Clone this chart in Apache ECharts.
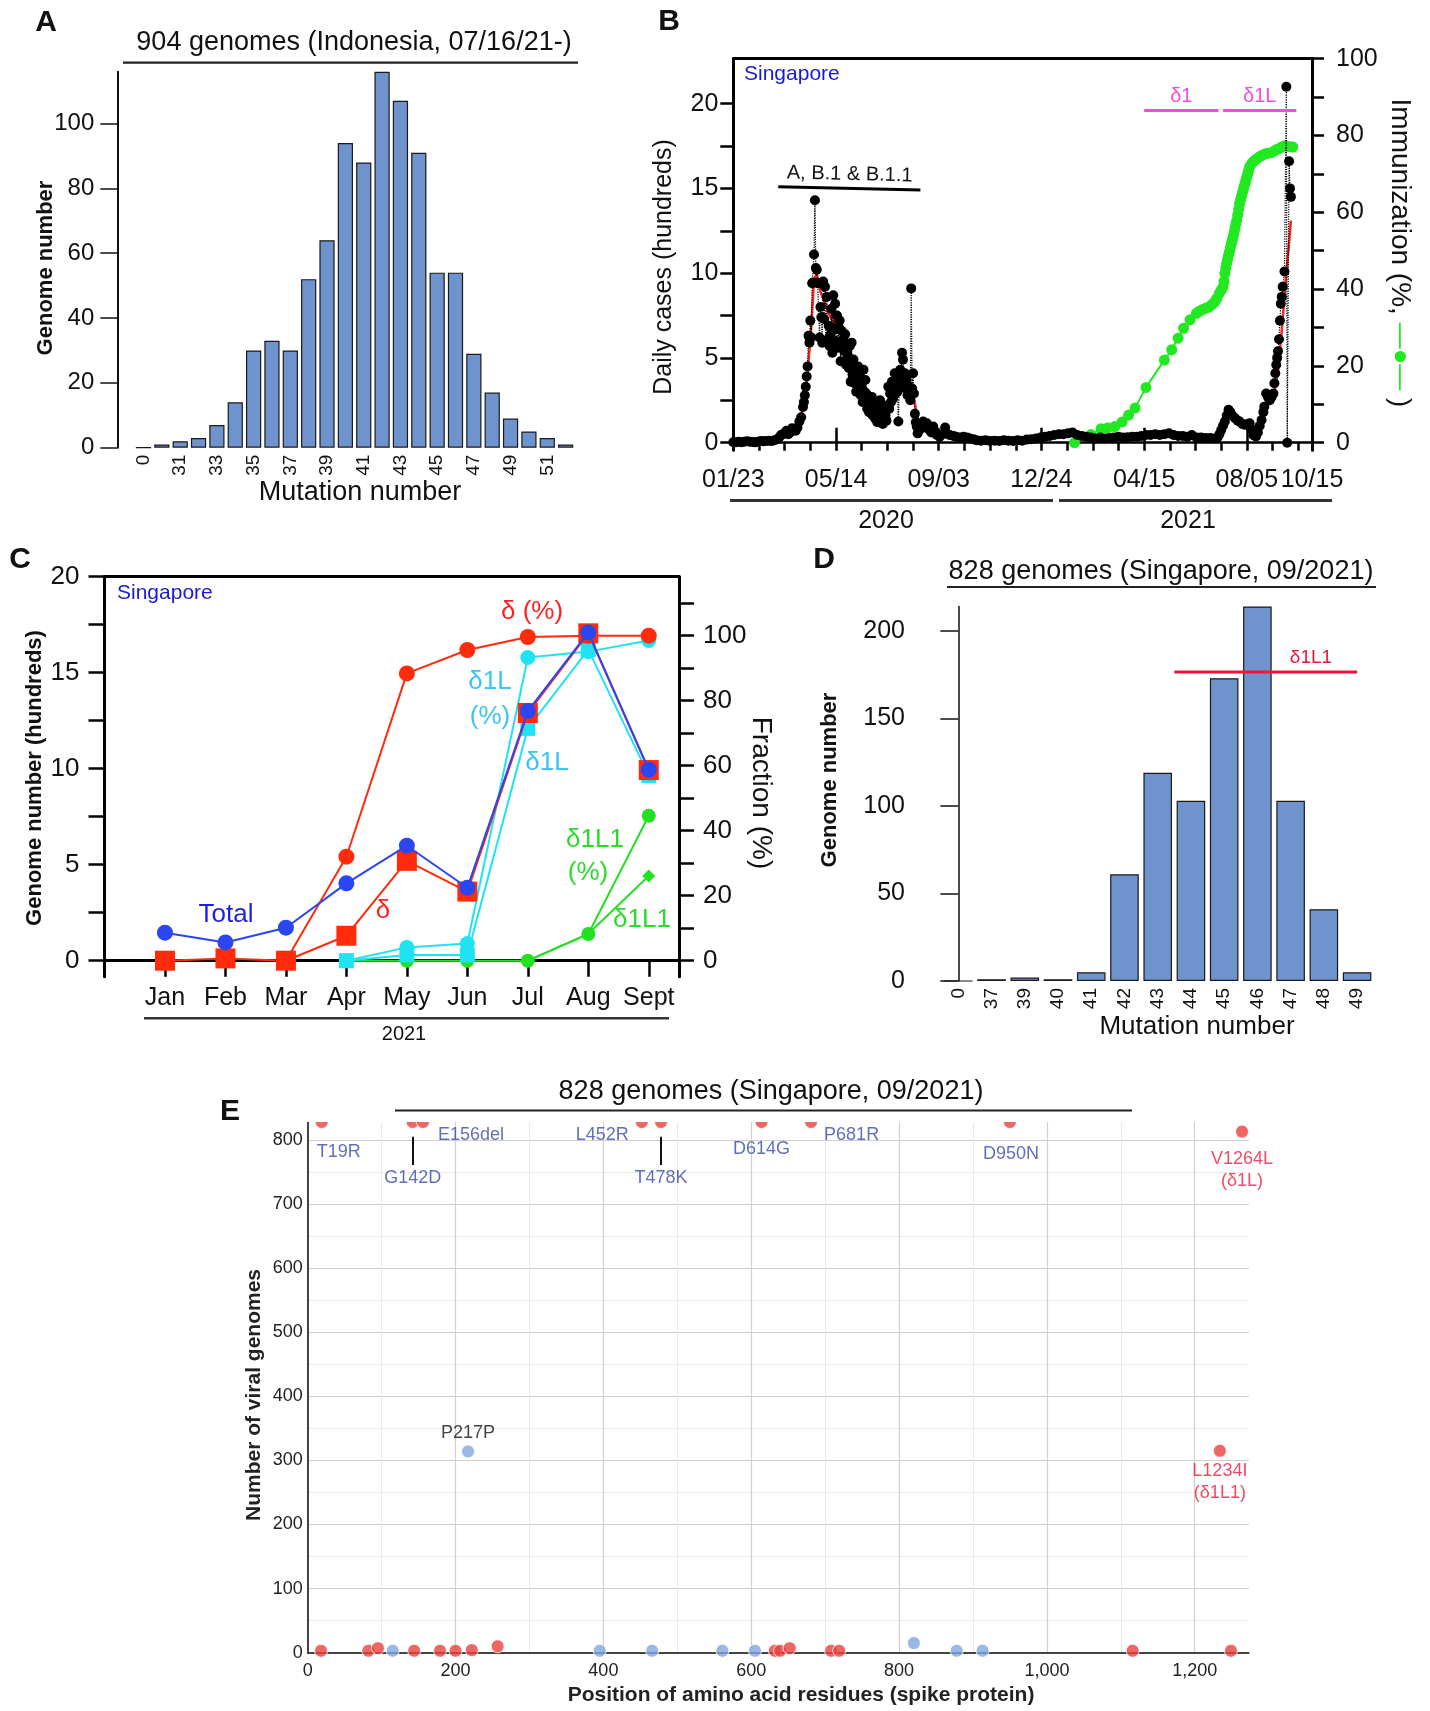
<!DOCTYPE html>
<html><head><meta charset="utf-8">
<script src="https://cdn.jsdelivr.net/npm/echarts@6/dist/echarts.min.js"></script>
<style>html,body{margin:0;padding:0;background:#fff}#c{width:1430px;height:1711px}</style>
</head><body><div id="c"></div>
<script>
// ================= DATA =================
// Panel A: Indonesia mutation-number histogram
const aMutations = ['0','30','31','32','33','34','35','36','37','38','39','40','41','42','43','44','45','46','47','48','49','50','51','52'];
const aGenomes   = [0,1,2,3,7,14,30,33,30,52,64,94,88,116,107,91,54,54,29,17,9,5,3,1];
const aYTicks = [0,20,40,60,80,100];

// Panel B: Singapore daily cases (hundreds) vs days since 2020-01-23, immunization (%)
const bTickDays   = [0,112,224,336,448,560,631];
const bTickLabels = ['01/23','05/14','09/03','12/24','04/15','08/05','10/15'];
const bYears = ['2020','2021'];
const bCases = [
[0,0.02],[3,0.03],[6,0.05],[9,0.02],[12,0.06],[15,0.08],[18,0.05],[21,0.04],[24,0.03],[27,0.06],[30,0.1],[33,0.08],[36,0.1],[39,0.12],[42,0.1],[45,0.14],[48,0.2],
[50,0.3],[52,0.45],[54,0.5],[56,0.55],[58,0.7],[60,0.5],[62,0.6],[64,0.85],[66,0.75],[68,0.7],[70,0.9],[72,1.25],[74,1.5],[76,2.1],[77,2.4],[78,2.8],[79,3.3],[80,3.9],[81,4.5],[82,6.3],[83,5.9],[84,7.2],[85,6.2],[86,9.4],[87,9.45],[88,11.1],[89,14.3],[90,10.3],[91,10.2],[92,9.4],[93,9.4],[94,6.2],[95,8.0],[96,7.4],[97,5.9],[98,9.5],[99,7.3],[100,9.2],[101,6.0],[102,8.6],[103,6.1],[104,6.9],[105,5.7],[106,6.4],[107,7.9],[108,5.3],[109,8.7],[110,6.7],[111,8.2],[112,6.0],[113,7.5],[114,5.6],[115,6.8],[116,7.2],[117,4.8],[118,6.6],[119,5.8],[120,6.1],[121,5.4],[122,6.4],[123,4.6],[124,5.3],[125,5.1],[126,4.4],[127,5.7],[128,3.6],[129,5.9],[130,4.0],[131,4.9],[132,3.5],[133,4.1],[134,3.0],[135,3.7],[136,4.5],[137,3.2],[138,4.1],[139,2.8],[140,3.3],[141,2.4],[142,4.3],[143,3.0],[144,3.7],[145,2.9],[146,2.0],[147,2.5],[148,1.8],[149,2.3],[150,2.2],[151,2.7],[152,1.6],[153,2.1],[154,1.7],[155,1.4],[156,2.3],[157,1.2],[158,1.9],[159,1.6],[160,2.5],[161,2.0],[162,1.8],[163,1.1],[164,1.5],[165,2.0],[166,1.6],[167,1.3],[168,2.2],[169,3.3],[170,2.0],[171,2.9],[172,2.4],[173,3.6],[174,2.6],[175,3.2],[176,4.1],[177,2.9],[178,3.7],[179,3.0],[180,1.25],[181,3.4],[182,4.3],[183,3.8],[184,5.3],[185,4.9],[186,3.5],[187,4.1],[188,3.2],[189,3.7],[190,2.8],[191,3.3],[192,3.0],[193,2.5],[194,9.1],[195,3.2],[196,4.1],[197,2.9],[198,1.7],[199,1.2],[200,0.95],[201,0.55],[202,0.8],[203,0.75],[205,1.0],[207,1.25],[209,0.9],[211,1.15],[213,0.9],[214,0.75],[216,0.6],[218,0.95],[220,0.6],[222,0.45],[225,0.35],[228,0.5],[231,0.9],[234,0.5],[236,0.45],[240,0.4],[243,0.35],[247,0.3],[251,0.35],[255,0.3],[258,0.25],[262,0.2],[265,0.15],
[270,0.12],[275,0.15],[280,0.1],[285,0.12],[290,0.1],[295,0.15],[300,0.12],[305,0.1],[310,0.15],[315,0.12],[320,0.18],[325,0.2],[330,0.25],[335,0.3],[340,0.35],[345,0.4],[350,0.45],[355,0.5],[360,0.5],[365,0.55],[370,0.6],[375,0.45],[380,0.4],[385,0.35],[390,0.3],[395,0.25],[400,0.3],[405,0.25],[410,0.27],[415,0.3],[420,0.35],[425,0.3],[430,0.32],[435,0.35],[440,0.35],[445,0.4],[450,0.45],[455,0.45],[460,0.5],[465,0.45],[470,0.5],[475,0.55],[480,0.45],[485,0.4],[490,0.4],[495,0.35],[500,0.45],[505,0.3],[510,0.3],[515,0.28],[520,0.27],[525,0.25],[528,0.3],
[530,0.5],[532,0.75],[534,1.0],[536,1.25],[538,1.6],[540,1.94],[542,1.8],[544,1.6],[547,1.45],[550,1.3],[552,1.25],[555,1.1],[558,1.05],[561,1.1],[563,1.15],[565,0.8],[567,0.45],[569,0.4],[570,0.36],[572,0.6],[574,1.0],[576,1.34],[578,1.8],[579,2.12],[581,2.9],[583,2.7],[585,2.5],[587,2.7],[589,2.9],[590,3.5],[591,4.1],[592,4.6],[593,5.0],[594,5.4],[595,6.1],[596,7.2],[597,8.2],[598,8.6],[599,9.2],[601,10.1],[603,21.0],[604,0],[606,16.6],[607,15.0],[608,14.5]
];
const bAvgWave1 = [[74,1.6],[78,2.6],[82,4.8],[85,6.8],[88,9.6],[91,10.0],[95,8.9],[100,8.2],[106,7.4],[112,6.9],[118,6.2],[124,5.4],[130,4.7],[136,4.1],[142,3.5],[148,2.7],[154,2.1],[160,1.8],[166,1.9],[172,2.6],[178,3.3],[184,3.9],[190,3.7],[194,3.5],[198,2.3],[202,1.1],[208,0.9],[216,0.8],[225,0.5],[240,0.4],[260,0.2]];
const bAvgWave3 = [[586,2.3],[590,3.0],[594,4.3],[598,6.6],[602,9.4],[606,11.8],[608,13.1]];
const bImmunization = [
[372,0],[390,2.1],[401,3.6],[408,3.8],[416,4.2],[424,5.4],[431,7.2],[438,9.0],[450,14.4],[470,21.5],[478,24.2],[485,27.2],[491,29.8],[498,32.0],[505,33.7],[508,34.2],[512,34.7],[515,35.0],[519,35.4],[522,36.0],[525,36.7],[527,37.5],[530,38.9],[532,39.7],[534,40.6],[535,42.0],[536,44.1],[537,45.5],[538,46.7],[539,47.8],[540,48.8],[541,49.7],[542,50.8],[543,51.8],[544,52.7],[545,53.6],[546,54.7],[547,55.8],[548,56.9],[549,57.9],[550,59.3],[551,60.8],[552,62.3],[553,63.2],[554,64.1],[555,65.0],[556,65.8],[557,66.7],[558,67.6],[559,68.4],[560,69.2],[561,70.1],[562,71.0],[563,71.9],[565,72.6],[567,73.2],[569,73.6],[571,74.0],[574,74.5],[577,74.9],[581,75.3],[584,75.4],[587,75.6],[590,76.0],[593,76.4],[596,76.7],[598,77.0],[601,77.3],[604,77.2],[607,77.1],[610,77.0]
];
const bLineageNames = ['A, B.1 & B.1.1','δ1','δ1L'];
const bLineageStart = [49,448,534];
const bLineageEnd   = [204,529,614];
const bLineageLevel = [15.0,19.6,19.6];

// Panel C: Singapore 2021 monthly genomes (hundreds) and fractions (%)
const cMonths   = ['Jan','Feb','Mar','Apr','May','Jun','Jul','Aug','Sept'];
const cTotal    = [1.46,0.95,1.72,4.03,5.99,3.80,13.0,17.1,9.95];
const cDelta    = [0,0.12,0,1.30,5.2,3.6,12.9,17.05,9.93];
const cDeltaPct = [null,null,0,32.0,88.4,95.6,99.6,100,100];
const cD1L      = [null,null,null,0,0.3,0.3,12.1,16.2,9.65];
const cD1LPct   = [null,null,null,0,4.1,5.3,93.3,95.1,98.5];
const cD1L1     = [null,null,null,null,null,null,0,1.4,4.41];
const cD1L1Pct  = [null,null,null,0,0,0,0,8.2,44.6];

// Panel D: Singapore 09/2021 mutation-number histogram
const dMutations = ['0','37','39','40','41','42','43','44','45','46','47','48','49'];
const dGenomes   = [0,1,2,1,5,61,119,103,173,214,103,41,5];
const dD1L1Span  = ['44','49'];
const dD1L1Level = 176.6;

// Panel E: spike mutations (position, genome count)
const eRedLabeledName  = ['T19R','G142D','E156del','L452R','T478K','D614G','P681R','D950N','V1264L','L1234I'];
const eRedLabeledPos   = [19,142,156,452,478,614,681,950,1264,1234];
const eRedLabeledCount = [828,828,828,828,828,828,828,828,813,315];
const eRedOtherPos     = [18,82,95,144,179,200,222,257,632,639,652,708,719,1116,1249];
const eRedOtherCount   = [3,3,7,3,3,3,4,10,3,3,7,3,3,3,3];
const eBlueLabeledName  = ['P217P'];
const eBlueLabeledPos   = [217];
const eBlueLabeledCount = [314];
const eBlueOtherPos     = [115,395,466,561,605,820,878,913];
const eBlueOtherCount   = [3,3,3,3,3,15,3,3];
const eLineageNote = {V1264L:'(δ1L)', L1234I:'(δ1L1)'};

// ================= STYLE / LAYOUT =================
const FF = '"Liberation Sans", Arial, Helvetica, sans-serif';
const BLUE_FILL = '#6E93CD';
const C_RED = '#FF2B0B', C_BLUE = '#2B46F0', C_CYAN = '#1FE3F2', C_GREEN = '#22E022';
const B_GREEN = '#22E822', MAGENTA = '#F24DDA';
const E_RED = '#E8423F', E_BLUE = '#7FA6DC', E_LBL_BLUE = '#3A4BA8', E_LBL_RED = '#EC1C3C';

const eLabelLayout = {
  T19R:{align:'center', offset:[17,30]},
  G142D:{align:'center', offset:[0,56]},
  E156del:{align:'left', offset:[15,13]},
  L452R:{align:'right', offset:[-13,13]},
  T478K:{align:'center', offset:[0,56]},
  D614G:{align:'center', offset:[0,27]},
  P681R:{align:'left', offset:[13,13]},
  D950N:{align:'center', offset:[1,32]},
  V1264L:{align:'center', offset:[0,38], color:E_LBL_RED},
  L1234I:{align:'center', offset:[0,31], color:E_LBL_RED},
  P217P:{align:'center', offset:[0,-18], color:'#111'}
};
const eLeaderLines = [{name:'G142D', from:805, to:761},{name:'T478K', from:805, to:761}];

function T(x,y,text,size,o){ o=o||{};
  return {type:'text', x:x, y:y, rotation:o.rot||0, z:100, silent:true,
    style:{text:text, fontSize:size, fontFamily:FF, fontWeight:o.bold?'bold':'normal', fill:o.color||'#111',
      align:o.align||'center', verticalAlign:'middle', rich:o.rich, lineHeight:o.lh}};
}
function L(x1,y1,x2,y2,w,color){ return {type:'line', z:100, silent:true, shape:{x1:x1,y1:y1,x2:x2,y2:y2}, style:{stroke:color||'#222', lineWidth:w||2}}; }

const lbl = (size, extra) => Object.assign({fontSize:size, fontFamily:FF, color:'#111'}, extra||{});
const bMinorTickDays = []; for (let d=0; d<=616; d+=28) bMinorTickDays.push(d);
const monthIdx = cMonths.map((m,i)=>i+1);
const toPairs = arr => arr.map((v,i)=> v==null ? null : [i+1, v]).filter(p=>p);

function eItems(names, pos, cnt){
  return names.map((n,i)=>{
    const lay = eLabelLayout[n] || {};
    const text = eLineageNote[n] ? n + '\n' + eLineageNote[n] : n;
    return {name:n, value:[pos[i], cnt[i]], label:{show:true, position:'inside', formatter:text,
      align:lay.align||'center', verticalAlign:'middle', offset:lay.offset||[0,0], color:lay.color||E_LBL_BLUE,
      fontSize:18, fontFamily:FF, lineHeight:22}};
  });
}
const ePairs = (pos,cnt)=>pos.map((p,i)=>[p,cnt[i]]);
const eRedByName = {}; eRedLabeledName.forEach((n,i)=>eRedByName[n]=eRedLabeledPos[i]);

const dStart = dMutations.indexOf(dD1L1Span[0]) - 0.5;
const dEnd = dMutations.indexOf(dD1L1Span[1]);

const bYRight = 100/22.65;

const option = {
  animation:false,
  backgroundColor:'#fff',
  grid:[
    {left:134.3, top:71.7, width:440.5, height:376, containLabel:false, outerBoundsMode:'none'},
    {left:733.3, top:58.7, width:578.7, height:391.6, containLabel:false, outerBoundsMode:'none'},
    {left:104.5, top:576.7, width:574.5, height:400, containLabel:false, outerBoundsMode:'none'},
    {left:941.7, top:606.5, width:432, height:374.5, containLabel:false, outerBoundsMode:'none'},
    {left:307.7, top:1122, width:941, height:530.7, containLabel:false, outerBoundsMode:'none'}
  ],
  xAxis:[
    // 0: A
    {type:'category', gridIndex:0, data:aMutations, axisLine:{show:false}, axisTick:{show:false},
     axisLabel:lbl(19,{rotate:90, interval:1, margin:7}), splitLine:{show:false}},
    // 1: B main
    {type:'value', gridIndex:1, min:0, max:631, axisLine:{show:true, onZero:true, lineStyle:{color:'#000', width:2.5}},
     axisTick:{show:true, customValues:bMinorTickDays, length:8, lineStyle:{color:'#000', width:2.5}},
     axisLabel:lbl(25,{customValues:bTickDays, margin:17, showMinLabel:true, showMaxLabel:true,
       formatter:v=>{const i=bTickDays.indexOf(Math.round(v)); return i>=0?bTickLabels[i]:'';}}),
     splitLine:{show:false}},
    // 2: B major ticks
    {type:'value', gridIndex:1, min:0, max:631, axisLine:{show:false, onZero:true},
     axisTick:{show:true, customValues:bTickDays.slice(0,6), length:15, lineStyle:{color:'#000', width:2.5}},
     axisLabel:{show:false}, splitLine:{show:false}},
    // 3: B top frame
    {type:'value', gridIndex:1, position:'top', min:0, max:631, axisLine:{show:true, onZero:false, lineStyle:{color:'#000', width:3}},
     axisTick:{show:false}, axisLabel:{show:false}, splitLine:{show:false}},
    // 4: C main
    {type:'value', gridIndex:2, min:0, max:9.5, axisLine:{show:true, onZero:true, lineStyle:{color:'#000', width:3}},
     axisTick:{show:true, customValues:monthIdx, length:16, lineStyle:{color:'#000', width:2.5}},
     axisLabel:lbl(25,{customValues:monthIdx, margin:9, formatter:v=>cMonths[Math.round(v)-1]||''}),
     splitLine:{show:false}},
    // 5: C top frame
    {type:'value', gridIndex:2, position:'top', min:0, max:9.5, axisLine:{show:true, onZero:false, lineStyle:{color:'#000', width:3}},
     axisTick:{show:false}, axisLabel:{show:false}, splitLine:{show:false}},
    // 6: D
    {type:'category', gridIndex:3, data:dMutations, axisLine:{show:false}, axisTick:{show:false},
     axisLabel:lbl(19,{rotate:90, interval:0, margin:7}), splitLine:{show:false}},
    // 7: D overlay for δ1L1 span
    {type:'value', gridIndex:3, min:-0.5, max:12.5, show:false},
    // 8: E
    {type:'value', gridIndex:4, min:0, max:1273, interval:200,
     axisLine:{show:true, onZero:true, lineStyle:{color:'#444', width:2}}, axisTick:{show:false},
     minorTick:{show:false, splitNumber:2},
     axisLabel:lbl(18,{color:'#222', margin:9, showMaxLabel:false, formatter:v=>Number(v).toLocaleString('en-US')}),
     splitLine:{show:true, showMaxLine:false, lineStyle:{color:'#cfcfcf', width:1.2}},
     minorSplitLine:{show:true, lineStyle:{color:'#e9e9e9', width:1}}}
  ],
  yAxis:[
    // 0: A
    {type:'value', gridIndex:0, min:0, max:116, offset:17,
     axisLine:{show:true, lineStyle:{color:'#111', width:2}},
     axisTick:{show:true, customValues:aYTicks, length:17, lineStyle:{color:'#111', width:1.5}},
     axisLabel:lbl(24,{customValues:aYTicks, margin:23}), splitLine:{show:false}},
    // 1: B left
    {type:'value', gridIndex:1, min:-0.45, max:22.65,
     axisLine:{show:true, onZero:false, lineStyle:{color:'#000', width:3}},
     axisTick:{show:true, customValues:[0,2.5,5,7.5,10,12.5,15,17.5,20], length:13, lineStyle:{color:'#000', width:2.5}},
     axisLabel:lbl(25,{customValues:[0,5,10,15,20], margin:15}), splitLine:{show:false}},
    // 2: B right
    {type:'value', gridIndex:1, position:'right', min:-0.45*bYRight, max:100,
     axisLine:{show:true, onZero:false, lineStyle:{color:'#000', width:3}},
     axisTick:{show:true, customValues:[0,10,20,30,40,50,60,70,80,90,100], length:12, lineStyle:{color:'#000', width:2.5}},
     axisLabel:lbl(25,{customValues:[0,20,40,60,80,100], margin:24}), splitLine:{show:false}},
    // 3: C left
    {type:'value', gridIndex:2, min:-0.833, max:20,
     axisLine:{show:true, onZero:false, lineStyle:{color:'#000', width:3}},
     axisTick:{show:true, customValues:[0,2.5,5,7.5,10,12.5,15,17.5,20], length:16, lineStyle:{color:'#000', width:2.5}},
     axisLabel:lbl(26,{customValues:[0,5,10,15,20], margin:25}), splitLine:{show:false}},
    // 4: C right
    {type:'value', gridIndex:2, position:'right', min:-4.92, max:118.15,
     axisLine:{show:true, onZero:false, lineStyle:{color:'#000', width:3}},
     axisTick:{show:true, customValues:[0,10,20,30,40,50,60,70,80,90,100,110], length:15, lineStyle:{color:'#000', width:2.5}},
     axisLabel:lbl(26,{customValues:[0,20,40,60,80,100], margin:24}), splitLine:{show:false}},
    // 5: D
    {type:'value', gridIndex:3, min:0, max:214, offset:13.7,
     axisLine:{show:true, lineStyle:{color:'#111', width:1.5}},
     axisTick:{show:true, customValues:[0,50,100,150,200], length:18, lineStyle:{color:'#111', width:1.5}},
     axisLabel:lbl(25,{customValues:[0,50,100,150,200], margin:23}), splitLine:{show:false}},
    // 6: E
    {type:'value', gridIndex:4, min:0, max:828, interval:100,
     axisLine:{show:true, lineStyle:{color:'#444', width:2}}, axisTick:{show:false},
     minorTick:{show:false, splitNumber:2},
     axisLabel:lbl(18,{color:'#222', margin:5, showMaxLabel:false}),
     splitLine:{show:true, showMaxLine:false, lineStyle:{color:'#cfcfcf', width:1.2}},
     minorSplitLine:{show:true, lineStyle:{color:'#e9e9e9', width:1}}}
  ],
  series:[
    // A
    {type:'bar', xAxisIndex:0, yAxisIndex:0, data:aGenomes, barCategoryGap:'17%',
     itemStyle:{color:BLUE_FILL, borderColor:'#1a1a1a', borderWidth:1.2}},
    // B
    {type:'line', xAxisIndex:1, yAxisIndex:1, data:bAvgWave1, symbol:'none', lineStyle:{color:'#FF2020', width:2.5}, z:3},
    {type:'line', xAxisIndex:1, yAxisIndex:1, data:bAvgWave3, symbol:'none', lineStyle:{color:'#FF2020', width:2.5}, z:3},
    {type:'line', xAxisIndex:1, yAxisIndex:2, data:bImmunization, symbol:'circle', symbolSize:11,
     itemStyle:{color:B_GREEN}, lineStyle:{color:B_GREEN, width:2}, z:3},
    {type:'line', xAxisIndex:1, yAxisIndex:1, data:bCases, symbol:'circle', symbolSize:10,
     itemStyle:{color:'#000'}, lineStyle:{color:'#000', width:1.2, type:'dotted'}, z:4,
     markLine:{silent:true, symbol:'none', animation:false,
       data:bLineageNames.map((n,i)=>{
         const col = i===0 ? '#000' : MAGENTA;
         return [{coord:[bLineageStart[i], bLineageLevel[i] + (i===0?0.1:0)],
                  lineStyle:{color:col, width:3, type:'solid'},
                  label:{show:true, position:'insideMiddleTop', formatter:n, color: i===0?'#111':MAGENTA,
                         fontSize:20, fontFamily:FF, distance:4}},
                 {coord:[bLineageEnd[i], bLineageLevel[i] - (i===0?0.1:0)]}];
       })}},
    // C
    {type:'line', xAxisIndex:4, yAxisIndex:4, data:toPairs(cD1L1Pct), symbol:'circle', symbolSize:14,
     itemStyle:{color:C_GREEN}, lineStyle:{color:C_GREEN, width:2}, z:2},
    {type:'line', xAxisIndex:4, yAxisIndex:3, data:toPairs(cD1L1), symbol:'diamond', symbolSize:13,
     itemStyle:{color:C_GREEN}, lineStyle:{color:C_GREEN, width:2}, z:2},
    {type:'line', xAxisIndex:4, yAxisIndex:4, data:toPairs(cD1LPct), symbol:'circle', symbolSize:15,
     itemStyle:{color:C_CYAN}, lineStyle:{color:C_CYAN, width:2}, z:3},
    {type:'line', xAxisIndex:4, yAxisIndex:3, data:toPairs(cD1L), symbol:'rect', symbolSize:15,
     itemStyle:{color:C_CYAN}, lineStyle:{color:C_CYAN, width:2}, z:3},
    {type:'line', xAxisIndex:4, yAxisIndex:4, data:toPairs(cDeltaPct), symbol:'circle', symbolSize:16,
     itemStyle:{color:C_RED}, lineStyle:{color:C_RED, width:2}, z:4},
    {type:'line', xAxisIndex:4, yAxisIndex:3, data:toPairs(cDelta), symbol:'rect', symbolSize:20,
     itemStyle:{color:C_RED}, lineStyle:{color:C_RED, width:2}, z:5},
    {type:'line', xAxisIndex:4, yAxisIndex:3, data:toPairs(cTotal), symbol:'circle', symbolSize:16,
     itemStyle:{color:C_BLUE}, lineStyle:{color:C_BLUE, width:2}, z:6},
    // D
    {type:'bar', xAxisIndex:6, yAxisIndex:5, data:dGenomes, barCategoryGap:'14%',
     itemStyle:{color:BLUE_FILL, borderColor:'#1a1a1a', borderWidth:1.2}},
    {type:'line', xAxisIndex:7, yAxisIndex:5, data:[[dStart,dD1L1Level],[dEnd,dD1L1Level]], symbol:'none',
     lineStyle:{color:'#F0143C', width:3}, z:5},
    // E
    {type:'scatter', xAxisIndex:8, yAxisIndex:6, clip:false, data:ePairs(eBlueOtherPos,eBlueOtherCount), symbolSize:13,
     itemStyle:{color:E_BLUE, borderColor:'#fff', borderWidth:1}},
    {type:'scatter', xAxisIndex:8, yAxisIndex:6, clip:false, data:ePairs(eRedOtherPos,eRedOtherCount), symbolSize:13,
     itemStyle:{color:E_RED, borderColor:'#fff', borderWidth:1}},
    {type:'scatter', xAxisIndex:8, yAxisIndex:6, clip:false, data:eItems(eBlueLabeledName,eBlueLabeledPos,eBlueLabeledCount), symbolSize:13,
     itemStyle:{color:E_BLUE, borderColor:'#fff', borderWidth:1}},
    {type:'scatter', xAxisIndex:8, yAxisIndex:6, clip:false, data:eItems(eRedLabeledName,eRedLabeledPos,eRedLabeledCount), symbolSize:13,
     itemStyle:{color:E_RED, borderColor:'#fff', borderWidth:1},
     markLine:{silent:true, symbol:'none', animation:false, label:{show:false},
       lineStyle:{color:'#111', width:2, type:'solid'},
       data:eLeaderLines.map(l=>[{coord:[eRedByName[l.name], l.from]},{coord:[eRedByName[l.name], l.to]}])}}
  ],
  graphic:[
    // panel letters
    T(46,23,'A',30,{bold:true}), T(669,22,'B',30,{bold:true}), T(20,560,'C',30,{bold:true}),
    T(824,560,'D',30,{bold:true}), T(230,1112,'E',30,{bold:true}),
    // A
    T(354,43,'904 genomes (Indonesia, 07/16/21-)',27), L(123,62.7,578,62.7,2.2,'#222'),
    T(46,268,'Genome number',22,{bold:true, rot:Math.PI/2}),
    T(360,493,'Mutation number',27),
    // B
    T(744,74,'Singapore',21,{align:'left', color:'#1A1ACF'}),
    T(664,267,'Daily cases (hundreds)',25,{rot:Math.PI/2}),
    T(1400,253,'Immunization (%, {g|—●—} )',28,{rot:-Math.PI/2, rich:{g:{fill:B_GREEN, fontSize:26, fontFamily:FF}}}),
    L(730,500.5,1053,500.5,3,'#333'), L(1059,500.5,1332,500.5,3,'#333'),
    T(886,521,bYears[0],25), T(1188,521,bYears[1],25),
    // C
    T(117,593,'Singapore',21,{align:'left', color:'#1A1ACF'}),
    T(532,612,'δ (%)',26,{color:'#FF1F1F'}),
    T(490,682,'δ1L',26,{color:'#3BC5F0'}), T(490,717,'(%)',26,{color:'#3BC5F0'}),
    T(547,763,'δ1L',26,{color:'#3BC5F0'}),
    T(226,915,'Total',26,{color:'#1E1EE6'}),
    T(383,911,'δ',26,{color:'#FF1F1F'}),
    T(595,840,'δ1L1',26,{color:'#2BDB2B'}), T(588,873,'(%)',26,{color:'#2BDB2B'}),
    T(642,920,'δ1L1',26,{color:'#2BDB2B'}),
    L(144,1018.3,669,1018.3,2.5,'#333'), T(404,1034,'2021',20),
    T(35,778,'Genome number (hundreds)',22,{bold:true, rot:Math.PI/2}),
    T(761,793,'Fraction (%)',28,{rot:-Math.PI/2}),
    // D
    T(1161,572,'828 genomes (Singapore, 09/2021)',27), L(947,587,1376,587,2.2,'#222'),
    T(830,780,'Genome number',22,{bold:true, rot:Math.PI/2}),
    T(1197,1027,'Mutation number',26),
    T(1311,658,'δ1L1',19,{color:'#F0143C'}),
    // E
    {type:'rect', z:50, silent:true, shape:{x:296, y:1112.5, width:970, height:9.5}, style:{fill:'#fff'}},
    T(771,1092,'828 genomes (Singapore, 09/2021)',27), L(395,1110.5,1132,1110.5,2.2,'#222'),
    T(254,1395,'Number of viral genomes',21,{bold:true, rot:Math.PI/2, color:'#222'}),
    T(801,1695,'Position of amino acid residues (spike protein)',21,{bold:true, color:'#222'})
  ]
};

const chart = echarts.init(document.getElementById('c'), null, {renderer:'canvas', width:1430, height:1711});
chart.setOption(option);
</script>
</body></html>
